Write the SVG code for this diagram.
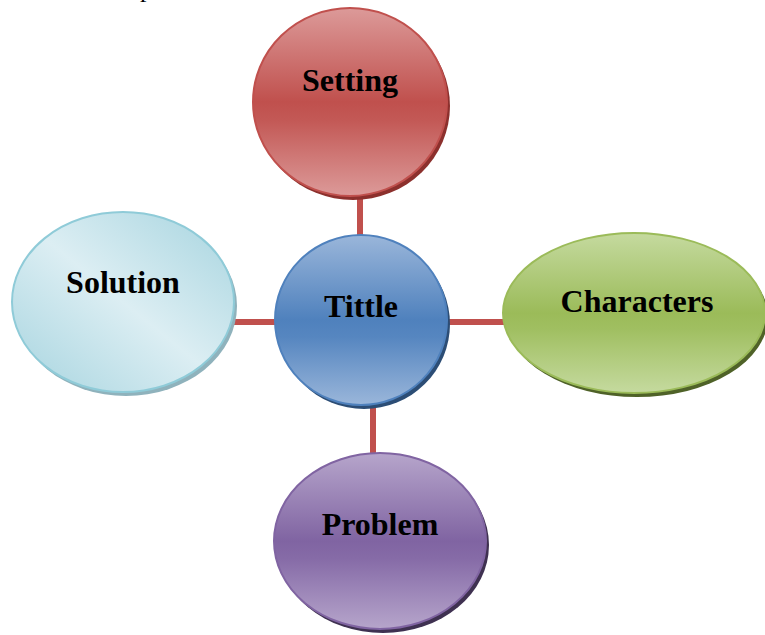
<svg xmlns="http://www.w3.org/2000/svg" width="765" height="635" viewBox="0 0 765 635">
  <defs>
    <linearGradient id="gRed" x1="0" y1="0" x2="0" y2="1">
      <stop offset="0" stop-color="#dc9a99"/>
      <stop offset="0.5" stop-color="#c0504d"/>
      <stop offset="0.6" stop-color="#c35956"/>
      <stop offset="1" stop-color="#dc9a99"/>
    </linearGradient>
    <linearGradient id="gBlue" x1="0" y1="0" x2="0" y2="1">
      <stop offset="0" stop-color="#9ab6da"/>
      <stop offset="0.5" stop-color="#4f81bd"/>
      <stop offset="0.6" stop-color="#5686c0"/>
      <stop offset="1" stop-color="#9ab6da"/>
    </linearGradient>
    <linearGradient id="gGreen" x1="0" y1="0" x2="0" y2="1">
      <stop offset="0" stop-color="#c5da9f"/>
      <stop offset="0.5" stop-color="#9bbb59"/>
      <stop offset="0.6" stop-color="#a0bf61"/>
      <stop offset="1" stop-color="#c5da9f"/>
    </linearGradient>
    <linearGradient id="gPurple" x1="0" y1="0" x2="0" y2="1">
      <stop offset="0" stop-color="#b6a5cb"/>
      <stop offset="0.5" stop-color="#8064a2"/>
      <stop offset="0.6" stop-color="#866ba7"/>
      <stop offset="1" stop-color="#b6a5cb"/>
    </linearGradient>
    <linearGradient id="gAqua" x1="0" y1="1" x2="1" y2="0">
      <stop offset="0" stop-color="#a6d4df"/>
      <stop offset="0.5" stop-color="#dceef3"/>
      <stop offset="1" stop-color="#a6d4df"/>
    </linearGradient>
  </defs>
  <style>
    .lbl { font-family: "Liberation Serif", "Times New Roman", serif; font-weight: bold; font-size: 32px; fill: #000; text-anchor: middle; }
    .link { stroke: #c0504d; stroke-width: 6; fill: none; }
  </style>

  <!-- tail of a text line running off the top edge -->
  <text x="140" y="-3" style="font-family: 'Liberation Serif', serif; font-size: 26px; fill: #000;">p</text>

  <g id="connectors">
    <line class="link" x1="360" y1="195" x2="360" y2="238"/>
    <line class="link" x1="230" y1="322" x2="278" y2="322"/>
    <line class="link" x1="444" y1="322" x2="508" y2="322"/>
    <line class="link" x1="373" y1="402" x2="373" y2="456"/>
  </g>

  <g id="setting">
    <ellipse cx="353" cy="106" rx="97" ry="94" fill="#8c302d"/>
    <ellipse cx="350" cy="102" rx="97" ry="94" fill="url(#gRed)" stroke="#c0504d" stroke-width="2"/>
    <text class="lbl" x="350" y="91">Setting</text>
  </g>

  <g id="solution">
    <ellipse cx="126" cy="306" rx="111" ry="90" fill="#8fb2bc"/>
    <ellipse cx="123" cy="302" rx="111" ry="90" fill="url(#gAqua)" stroke="#8fcbd8" stroke-width="2"/>
    <text class="lbl" x="123" y="293">Solution</text>
  </g>

  <g id="tittle">
    <ellipse cx="364" cy="324" rx="86" ry="85" fill="#2c4d75"/>
    <ellipse cx="361" cy="320" rx="86" ry="85" fill="url(#gBlue)" stroke="#4f81bd" stroke-width="2"/>
    <text class="lbl" x="361" y="317">Tittle</text>
  </g>

  <g id="characters">
    <ellipse cx="637" cy="317" rx="131" ry="80" fill="#4f6228"/>
    <ellipse cx="634" cy="313" rx="131" ry="80" fill="url(#gGreen)" stroke="#9bbb59" stroke-width="2"/>
    <text class="lbl" x="637" y="312">Characters</text>
  </g>

  <g id="problem">
    <ellipse cx="383" cy="545" rx="106" ry="88" fill="#3f3151"/>
    <ellipse cx="380" cy="541" rx="106" ry="88" fill="url(#gPurple)" stroke="#8064a2" stroke-width="2"/>
    <text class="lbl" x="380" y="535">Problem</text>
  </g>
</svg>
